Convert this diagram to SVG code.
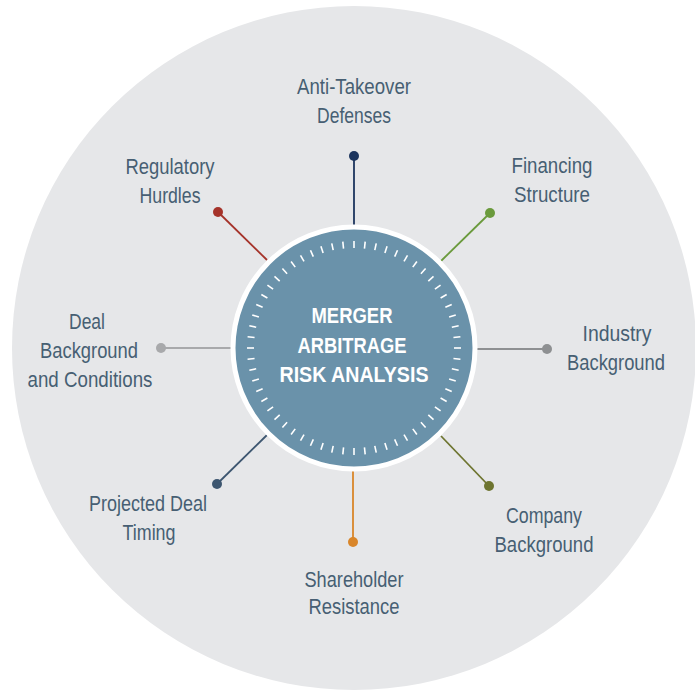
<svg xmlns="http://www.w3.org/2000/svg" xmlns:xlink="http://www.w3.org/1999/xlink" width="695" height="690" viewBox="0 0 695 690">
<style>
.lbl{font-family:"Liberation Sans",Arial,sans-serif;font-size:22px;fill:#475f73;text-anchor:middle}
.ctr{font-family:"Liberation Sans",Arial,sans-serif;font-size:22px;font-weight:bold;fill:#ffffff;text-anchor:middle}
.tk{stroke:#ffffff;stroke-width:1.6}
.cn{stroke-width:1.8;fill:none}
</style>
<defs>
<line id="tk" class="tk" x1="0" y1="-107" x2="0" y2="-100"/>
</defs>
<rect width="695" height="690" fill="#ffffff"/>
<circle cx="354" cy="348" r="342" fill="#e6e7e9"/>

<g id="connectors">
<line class="cn" stroke="#1c355e" x1="354" y1="156" x2="354" y2="226"/>
<line class="cn" stroke="#a5332a" x1="218" y1="212" x2="267" y2="260"/>
<line class="cn" stroke="#6a9a3c" x1="490" y1="213" x2="441" y2="261"/>
<line class="cn" stroke="#a8a9ab" x1="161" y1="348" x2="232" y2="348"/>
<line class="cn" stroke="#8e9092" x1="547" y1="349" x2="476" y2="349"/>
<line class="cn" stroke="#3d5670" x1="217" y1="484" x2="267" y2="435"/>
<line class="cn" stroke="#d9862a" x1="353" y1="542" x2="353" y2="470"/>
<line class="cn" stroke="#6e7530" x1="489" y1="486" x2="441" y2="436"/>
</g>

<g id="center">
<circle cx="354" cy="348" r="121" fill="#6a92aa" stroke="#ffffff" stroke-width="5"/>
<g transform="translate(354 348)">
<use xlink:href="#tk" transform="rotate(0)"/><use xlink:href="#tk" transform="rotate(6)"/><use xlink:href="#tk" transform="rotate(12)"/><use xlink:href="#tk" transform="rotate(18)"/><use xlink:href="#tk" transform="rotate(24)"/><use xlink:href="#tk" transform="rotate(30)"/><use xlink:href="#tk" transform="rotate(36)"/><use xlink:href="#tk" transform="rotate(42)"/><use xlink:href="#tk" transform="rotate(48)"/><use xlink:href="#tk" transform="rotate(54)"/>
<use xlink:href="#tk" transform="rotate(60)"/><use xlink:href="#tk" transform="rotate(66)"/><use xlink:href="#tk" transform="rotate(72)"/><use xlink:href="#tk" transform="rotate(78)"/><use xlink:href="#tk" transform="rotate(84)"/><use xlink:href="#tk" transform="rotate(90)"/><use xlink:href="#tk" transform="rotate(96)"/><use xlink:href="#tk" transform="rotate(102)"/><use xlink:href="#tk" transform="rotate(108)"/><use xlink:href="#tk" transform="rotate(114)"/>
<use xlink:href="#tk" transform="rotate(120)"/><use xlink:href="#tk" transform="rotate(126)"/><use xlink:href="#tk" transform="rotate(132)"/><use xlink:href="#tk" transform="rotate(138)"/><use xlink:href="#tk" transform="rotate(144)"/><use xlink:href="#tk" transform="rotate(150)"/><use xlink:href="#tk" transform="rotate(156)"/><use xlink:href="#tk" transform="rotate(162)"/><use xlink:href="#tk" transform="rotate(168)"/><use xlink:href="#tk" transform="rotate(174)"/>
<use xlink:href="#tk" transform="rotate(180)"/><use xlink:href="#tk" transform="rotate(186)"/><use xlink:href="#tk" transform="rotate(192)"/><use xlink:href="#tk" transform="rotate(198)"/><use xlink:href="#tk" transform="rotate(204)"/><use xlink:href="#tk" transform="rotate(210)"/><use xlink:href="#tk" transform="rotate(216)"/><use xlink:href="#tk" transform="rotate(222)"/><use xlink:href="#tk" transform="rotate(228)"/><use xlink:href="#tk" transform="rotate(234)"/>
<use xlink:href="#tk" transform="rotate(240)"/><use xlink:href="#tk" transform="rotate(246)"/><use xlink:href="#tk" transform="rotate(252)"/><use xlink:href="#tk" transform="rotate(258)"/><use xlink:href="#tk" transform="rotate(264)"/><use xlink:href="#tk" transform="rotate(270)"/><use xlink:href="#tk" transform="rotate(276)"/><use xlink:href="#tk" transform="rotate(282)"/><use xlink:href="#tk" transform="rotate(288)"/><use xlink:href="#tk" transform="rotate(294)"/>
<use xlink:href="#tk" transform="rotate(300)"/><use xlink:href="#tk" transform="rotate(306)"/><use xlink:href="#tk" transform="rotate(312)"/><use xlink:href="#tk" transform="rotate(318)"/><use xlink:href="#tk" transform="rotate(324)"/><use xlink:href="#tk" transform="rotate(330)"/><use xlink:href="#tk" transform="rotate(336)"/><use xlink:href="#tk" transform="rotate(342)"/><use xlink:href="#tk" transform="rotate(348)"/><use xlink:href="#tk" transform="rotate(354)"/>
</g>
<text class="ctr" x="352" y="323" textLength="81" lengthAdjust="spacingAndGlyphs">MERGER</text>
<text class="ctr" x="352" y="353" textLength="109" lengthAdjust="spacingAndGlyphs">ARBITRAGE</text>
<text class="ctr" x="354" y="382" textLength="149" lengthAdjust="spacingAndGlyphs">RISK ANALYSIS</text>
</g>

<g id="anti-takeover">
<circle cx="354" cy="156" r="5" fill="#1c355e"/>
<text class="lbl" x="354" y="94" textLength="114" lengthAdjust="spacingAndGlyphs">Anti-Takeover</text>
<text class="lbl" x="354" y="123" textLength="74" lengthAdjust="spacingAndGlyphs">Defenses</text>
</g>

<g id="regulatory">
<circle cx="218" cy="212" r="5" fill="#a5332a"/>
<text class="lbl" x="170" y="174" textLength="89" lengthAdjust="spacingAndGlyphs">Regulatory</text>
<text class="lbl" x="170" y="203" textLength="61" lengthAdjust="spacingAndGlyphs">Hurdles</text>
</g>

<g id="financing">
<circle cx="490" cy="213" r="5" fill="#6a9a3c"/>
<text class="lbl" x="552" y="173" textLength="81" lengthAdjust="spacingAndGlyphs">Financing</text>
<text class="lbl" x="552" y="202" textLength="76" lengthAdjust="spacingAndGlyphs">Structure</text>
</g>

<g id="deal-background">
<circle cx="161" cy="348" r="5" fill="#a8a9ab"/>
<text class="lbl" x="87" y="329" textLength="36" lengthAdjust="spacingAndGlyphs">Deal</text>
<text class="lbl" x="89" y="358" textLength="98" lengthAdjust="spacingAndGlyphs">Background</text>
<text class="lbl" x="90" y="387" textLength="125" lengthAdjust="spacingAndGlyphs">and Conditions</text>
</g>

<g id="industry">
<circle cx="547" cy="349" r="5" fill="#8e9092"/>
<text class="lbl" x="617" y="341" textLength="69" lengthAdjust="spacingAndGlyphs">Industry</text>
<text class="lbl" x="616" y="370" textLength="98" lengthAdjust="spacingAndGlyphs">Background</text>
</g>

<g id="projected-timing">
<circle cx="217" cy="484" r="5" fill="#3d5670"/>
<text class="lbl" x="148" y="511" textLength="118" lengthAdjust="spacingAndGlyphs">Projected Deal</text>
<text class="lbl" x="149" y="540" textLength="53" lengthAdjust="spacingAndGlyphs">Timing</text>
</g>

<g id="shareholder">
<circle cx="353" cy="542" r="5" fill="#d9862a"/>
<text class="lbl" x="354" y="587" textLength="99" lengthAdjust="spacingAndGlyphs">Shareholder</text>
<text class="lbl" x="354" y="614" textLength="91" lengthAdjust="spacingAndGlyphs">Resistance</text>
</g>

<g id="company">
<circle cx="489" cy="486" r="5" fill="#6e7530"/>
<text class="lbl" x="544" y="523" textLength="76" lengthAdjust="spacingAndGlyphs">Company</text>
<text class="lbl" x="544" y="552" textLength="99" lengthAdjust="spacingAndGlyphs">Background</text>
</g>
</svg>
